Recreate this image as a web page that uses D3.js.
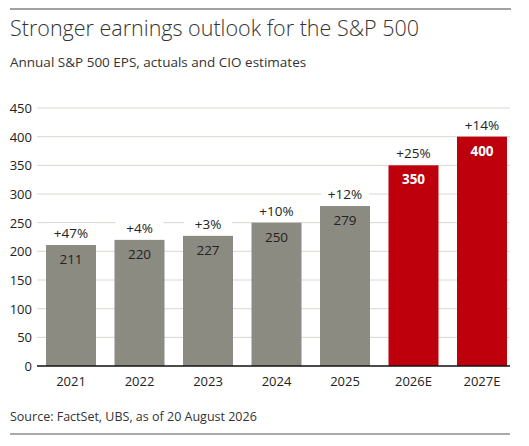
<!DOCTYPE html>
<html>
<head>
<meta charset="utf-8">
<script src="https://cdn.jsdelivr.net/npm/d3@7"></script>
<style>
  body { margin: 0; background: #fff; }
  text { font-family: "Open Sans", sans-serif; fill: #222; }
</style>
</head>
<body>
<div id="chart"></div>
<script>
// Chart data
const years = ["2021", "2022", "2023", "2024", "2025", "2026E", "2027E"];
const eps = [211, 220, 227, 250, 279, 350, 400];
const growth = ["+47%", "+4%", "+3%", "+10%", "+12%", "+25%", "+14%"];
const estimate = [false, false, false, false, false, true, true];
const yTicks = [0, 50, 100, 150, 200, 250, 300, 350, 400, 450];

const W = 529, H = 446;

const svg = d3.select("#chart").append("svg")
    .attr("width", W)
    .attr("height", H);

// Top and bottom rules
svg.append("line").attr("x1", 10).attr("x2", 511).attr("y1", 9).attr("y2", 9)
    .attr("stroke", "#444").attr("stroke-width", 1);
svg.append("line").attr("x1", 10).attr("x2", 510).attr("y1", 434).attr("y2", 434)
    .attr("stroke", "#8c8c8c").attr("stroke-width", 1.5);

// Titles
svg.append("text").attr("x", 10).attr("y", 36)
    .style("font-size", "21.5px").style("font-weight", 300).style("fill", "#333")
    .text("Stronger earnings outlook for the S&P 500");
svg.append("text").attr("x", 10).attr("y", 67)
    .style("font-size", "13.5px").style("fill", "#333")
    .text("Annual S&P 500 EPS, actuals and CIO estimates");

// Scales
const x = d3.scaleBand()
    .domain(years)
    .range([46, 507])
    .paddingInner(0.27)
    .paddingOuter(0);

const y = d3.scaleLinear()
    .domain([0, 450])
    .range([366, 108]);

// Gridlines
svg.append("g")
  .selectAll("line")
  .data(yTicks.filter(d => d > 0))
  .join("line")
    .attr("x1", 37).attr("x2", 510)
    .attr("y1", d => y(d)).attr("y2", d => y(d))
    .attr("stroke", "#d8d8d2").attr("stroke-width", 1);

// Y axis labels
svg.append("g")
  .selectAll("text")
  .data(yTicks)
  .join("text")
    .attr("x", 32)
    .attr("y", d => y(d) + 5)
    .attr("text-anchor", "end")
    .style("font-size", "13px")
    .text(d => d);

const data = years.map((yr, i) => ({ year: yr, eps: eps[i], growth: growth[i], est: estimate[i] }));

// Bars
svg.append("g")
  .selectAll("rect")
  .data(data)
  .join("rect")
    .attr("x", d => x(d.year))
    .attr("y", d => y(d.eps))
    .attr("width", x.bandwidth())
    .attr("height", d => y(0) - y(d.eps))
    .attr("fill", d => d.est ? "#bd000c" : "#8c8b82");

// Baseline
svg.append("line").attr("x1", 37).attr("x2", 510).attr("y1", y(0)).attr("y2", y(0))
    .attr("stroke", "#111").attr("stroke-width", 1.5);

// Growth labels above bars (white backing hides gridlines)
const pct = svg.append("g")
  .selectAll("g")
  .data(data)
  .join("g")
    .attr("transform", d => `translate(${x(d.year) + x.bandwidth() / 2},${y(d.eps) - 7})`);
pct.append("rect")
    .attr("x", -24).attr("y", -15).attr("width", 48).attr("height", 18)
    .attr("fill", "#fff");
pct.append("text")
    .attr("text-anchor", "middle")
    .style("font-size", "13.5px")
    .text(d => d.growth);

// Values inside bars
svg.append("g")
  .selectAll("text")
  .data(data)
  .join("text")
    .attr("x", d => x(d.year) + x.bandwidth() / 2)
    .attr("y", d => y(d.eps) + 19)
    .attr("text-anchor", "middle")
    .style("font-size", "13.5px")
    .style("font-weight", d => d.est ? 700 : 400)
    .style("fill", d => d.est ? "#fff" : "#222")
    .text(d => d.eps);

// X axis labels
svg.append("g")
  .selectAll("text")
  .data(years)
  .join("text")
    .attr("x", d => x(d) + x.bandwidth() / 2)
    .attr("y", 386)
    .attr("text-anchor", "middle")
    .style("font-size", "13px")
    .text(d => d);

// Source
svg.append("text").attr("x", 10).attr("y", 421)
    .style("font-size", "12.5px").style("fill", "#333")
    .text("Source: FactSet, UBS, as of 20 August 2026");
</script>
</body>
</html>
